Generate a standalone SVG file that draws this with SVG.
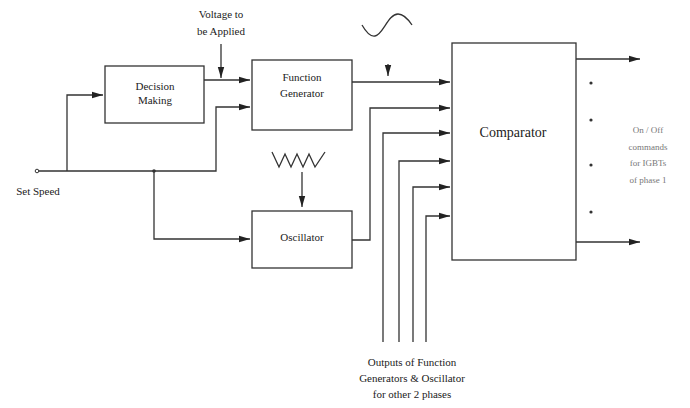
<svg xmlns="http://www.w3.org/2000/svg" width="690" height="408" viewBox="0 0 690 408">
<defs>
<style>
.box{fill:#fff;stroke:#333;stroke-width:1.3}
.ln{fill:none;stroke:#333;stroke-width:1.3}
.t{font-family:"Liberation Serif",serif;font-size:11px;fill:#222;text-anchor:middle}
.lt{font-family:"Liberation Serif",serif;font-size:9px;fill:#777;text-anchor:middle}
</style>
<marker id="ar" markerWidth="11" markerHeight="8" refX="11" refY="4" orient="auto" markerUnits="userSpaceOnUse">
<path d="M0,0.8 L11,4 L0,7.2 Z" fill="#222"/>
</marker>
</defs>
<rect width="690" height="408" fill="#fff"/>
<g id="connectors">
<path class="ln" d="M37,171 H216 V107 H250" marker-end="url(#ar)"/>
<path class="ln" d="M67,171 V95 H103" marker-end="url(#ar)"/>
<path class="ln" d="M154,171 V239 H250" marker-end="url(#ar)"/>
<path class="ln" d="M204,80 H250" marker-end="url(#ar)"/>
<path class="ln" d="M221,44 V78" marker-end="url(#ar)"/>
<path class="ln" d="M302,172 V207" marker-end="url(#ar)"/>
<path class="ln" d="M352,82 H450" marker-end="url(#ar)"/>
<path class="ln" d="M388,64 V76" marker-end="url(#ar)"/>
<path class="ln" d="M352,240 H370 V108 H450" marker-end="url(#ar)"/>
<path class="ln" d="M383,342 V133 H450" marker-end="url(#ar)"/>
<path class="ln" d="M399,342 V161 H450" marker-end="url(#ar)"/>
<path class="ln" d="M413,342 V187 H450" marker-end="url(#ar)"/>
<path class="ln" d="M426,342 V216 H450" marker-end="url(#ar)"/>
<path class="ln" d="M576,59 H640" marker-end="url(#ar)"/>
<path class="ln" d="M576,242 H640" marker-end="url(#ar)"/>
<circle cx="37" cy="171" r="1.8" fill="#fff" stroke="#333" stroke-width="1"/>
<circle cx="154" cy="171" r="1.8" fill="#333"/>
<circle cx="591" cy="83" r="1.6" fill="#333"/>
<circle cx="591" cy="120" r="1.6" fill="#333"/>
<circle cx="591" cy="165" r="1.6" fill="#333"/>
<circle cx="591" cy="212" r="1.6" fill="#333"/>
</g>
<g id="decision">
<rect class="box" x="105" y="66" width="99" height="57"/>
<text class="t" x="155" y="90">Decision</text>
<text class="t" x="155" y="104">Making</text>
</g>
<g id="function-generator">
<rect class="box" x="252" y="60" width="100" height="70"/>
<text class="t" x="302" y="81">Function</text>
<text class="t" x="302" y="97">Generator</text>
</g>
<g id="oscillator">
<rect class="box" x="252" y="211" width="100" height="57"/>
<text class="t" x="302" y="241">Oscillator</text>
</g>
<g id="comparator">
<rect class="box" x="452" y="43" width="124" height="217"/>
<text class="t" x="513" y="137" style="font-size:14px">Comparator</text>
</g>
<g id="labels">
<text class="t" x="221" y="18">Voltage to</text>
<text class="t" x="221" y="35">be Applied</text>
<text class="t" x="38" y="195">Set Speed</text>
<text class="t" x="412" y="366">Outputs of Function</text>
<text class="t" x="412" y="382">Generators &amp; Oscillator</text>
<text class="t" x="412" y="398">for other 2 phases</text>
<text class="lt" x="648" y="133">On / Off</text>
<text class="lt" x="648" y="150">commands</text>
<text class="lt" x="648" y="166">for IGBTs</text>
<text class="lt" x="648" y="183">of phase 1</text>
</g>
<g id="symbols">
<path class="ln" d="M362,25 C366,32 370,37 375,36 C383,35 388,14 398,14 C404,14 408,19 412,25" stroke-width="1.5"/>
<path class="ln" d="M272,152 L279,167 L285,154 L291,167 L297,154 L303,167 L309,154 L315,167 L325,152" stroke-width="1.4"/>
</g>
</svg>
